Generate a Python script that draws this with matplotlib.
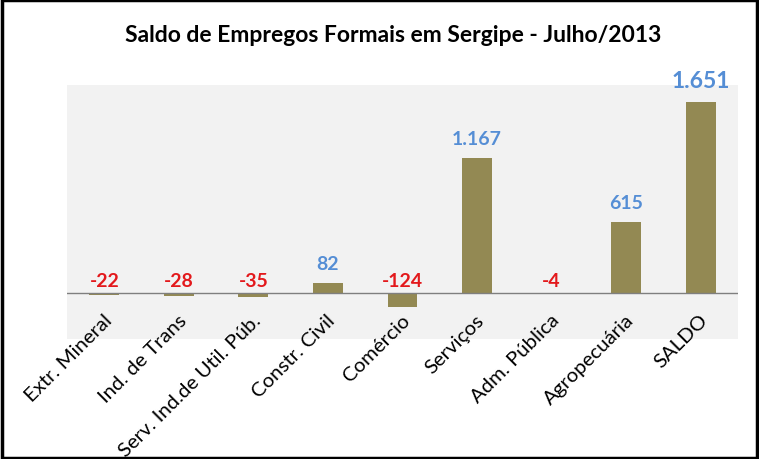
import matplotlib.pyplot as plt
from matplotlib.patches import Rectangle

# dados do gráfico
categorias = ['Extr. Mineral', 'Ind. de Trans', 'Serv. Ind.de Util. Púb.', 'Constr. Civil',
              'Comércio', 'Serviços', 'Adm. Pública', 'Agropecuária', 'SALDO']
saldos = [-22, -28, -35, 82, -124, 1167, -4, 615, 1651]
rotulos = ['-22', '-28', '-35', '82', '-124', '1.167', '-4', '615', '1.651']

plt.rcParams['font.family'] = ['Lato', 'DejaVu Sans']

fig = plt.figure(figsize=(7.59, 4.60), dpi=100)
ax = fig.add_axes([0.0883, 0.261, 0.884, 0.552])
ax.set_facecolor('#F2F2F2')

x = range(len(categorias))
ax.bar(x, saldos, width=0.4, color='#938953', zorder=2)
ax.axhline(0, color='#7F7F7F', lw=1, zorder=3)

# rótulos de valores
for i, (v, r) in enumerate(zip(saldos, rotulos)):
    if v < 0:
        ax.annotate(r, (i, 0), xytext=(0, 3), textcoords='offset points',
                    ha='center', va='bottom', color='#E3191C',
                    fontsize=14, fontweight='bold')
    else:
        tam = 16.5 if categorias[i] == 'SALDO' else 14
        ax.annotate(r, (i, v), xytext=(0, 8), textcoords='offset points',
                    ha='center', va='bottom', color='#558ED5',
                    fontsize=tam, fontweight='bold')

# rótulos das categorias abaixo do eixo
for i, c in enumerate(categorias):
    ax.annotate(c, (i, 0), xytext=(-1, -13), textcoords='offset points',
                ha='right', va='top', rotation=45, rotation_mode='anchor',
                fontsize=14.7, annotation_clip=False)

ax.set_xlim(-0.5, len(categorias) - 0.5)
ax.set_ylim(-400, 1800)
ax.set_yticks([])
ax.set_xticks([])
for s in ax.spines.values():
    s.set_visible(False)

fig.text(0.518, 0.922, 'Saldo de Empregos Formais em Sergipe - Julho/2013',
         ha='center', va='center', fontsize=16.5, fontweight='bold')

# borda preta
fig.patches.append(Rectangle((0.002, 0.003), 0.996, 0.994, transform=fig.transFigure,
                             fill=False, edgecolor='black', lw=2.5))

fig.savefig('out.png', dpi=100)
